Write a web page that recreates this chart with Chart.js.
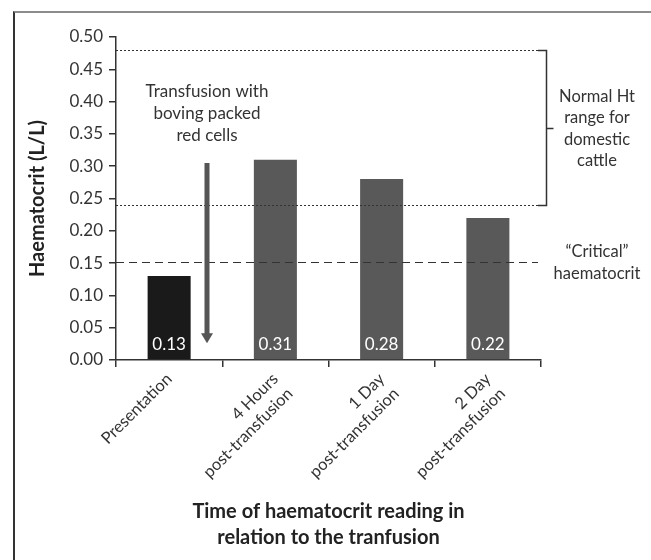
<!DOCTYPE html>
<html>
<head>
    <meta charset="UTF-8">
    <title>Haematocrit after transfusion</title>
    <script src="https://cdn.jsdelivr.net/npm/chart.js"></script>
    <style>
        body { margin: 0; background: #fff; }
        #wrap { position: relative; width: 651px; height: 560px; }
        #frame { position: absolute; left: 13px; top: 11px; right: 0; bottom: 0;
                 border-top: 2px solid #8c8c8c; border-left: 2px solid #333; }
        canvas { position: absolute; left: 0; top: 0; }
    </style>
</head>
<body>
<div id="wrap">
    <div id="frame"></div>
    <canvas id="htChart" width="651" height="560"></canvas>
</div>

<script>
    // data
    var categories = [
        ['Presentation'],
        ['4 Hours', 'post-transfusion'],
        ['1 Day', 'post-transfusion'],
        ['2 Day', 'post-transfusion']
    ];
    var haematocrit = [0.13, 0.31, 0.28, 0.22];
    var barColors = ['#1a1a1a', '#595959', '#595959', '#595959'];
    var yTickValues = [0, 0.05, 0.10, 0.15, 0.20, 0.25, 0.30, 0.35, 0.40, 0.45, 0.50];
    var normalRange = [0.24, 0.48];   // dotted lines
    var criticalLevel = 0.152;        // dashed line

    var FONT = 'Lato, "Open Sans", sans-serif';
    var TEXT = '#333';

    var annotations = {
        id: 'annotations',
        afterDatasetsDraw: function (chart) {
            var ctx = chart.ctx;
            var area = chart.chartArea;
            var x = chart.scales.x, y = chart.scales.y;
            ctx.save();

            // normal range (dotted)
            ctx.strokeStyle = '#333';
            ctx.lineWidth = 1;
            ctx.setLineDash([2, 2]);
            var lineEnd = area.right - 3;
            normalRange.forEach(function (v) {
                var py = Math.round(y.getPixelForValue(v)) + 0.5;
                ctx.beginPath();
                ctx.moveTo(area.left, py);
                ctx.lineTo(lineEnd, py);
                ctx.stroke();
            });

            // critical (dashed)
            ctx.setLineDash([8, 5]);
            ctx.lineWidth = 1.2;
            var cy = Math.round(y.getPixelForValue(criticalLevel)) + 0.5;
            ctx.beginPath();
            ctx.moveTo(area.left, cy);
            ctx.lineTo(lineEnd, cy);
            ctx.stroke();
            ctx.setLineDash([]);

            // bracket
            var bx = area.right + 5.5;
            var by1 = Math.round(y.getPixelForValue(normalRange[1])) + 0.5;
            var by0 = Math.round(y.getPixelForValue(normalRange[0])) + 0.5;
            var bm = Math.round((by0 + by1) / 2) + 0.5;
            ctx.lineWidth = 1.5;
            ctx.beginPath();
            ctx.moveTo(lineEnd, by1); ctx.lineTo(bx, by1); ctx.lineTo(bx, by0); ctx.lineTo(lineEnd, by0);
            ctx.moveTo(bx, bm); ctx.lineTo(bx + 7, bm);
            ctx.stroke();

            // right-side labels
            ctx.fillStyle = TEXT;
            ctx.font = '16.5px ' + FONT;
            ctx.textAlign = 'center';
            ctx.textBaseline = 'middle';
            var rx = area.right + 56;
            ['Normal Ht', 'range for', 'domestic', 'cattle'].forEach(function (t, i) {
                ctx.fillText(t, rx, bm - 32 + i * 21.5);
            });
            ['\u201CCritical\u201D', 'haematocrit'].forEach(function (t, i) {
                ctx.fillText(t, rx, cy - 11 + i * 22);
            });

            // transfusion arrow
            var x0 = x.getPixelForValue(0), x1 = x.getPixelForValue(1);
            var ax = Math.round(x0 + 0.36 * (x1 - x0));
            var aTop = y.getPixelForValue(0.305);
            var aTip = y.getPixelForValue(0.026);
            ctx.strokeStyle = '#555';
            ctx.fillStyle = '#555';
            ctx.lineWidth = 5;
            ctx.beginPath();
            ctx.moveTo(ax, aTop);
            ctx.lineTo(ax, aTip - 9);
            ctx.stroke();
            ctx.beginPath();
            ctx.moveTo(ax - 6, aTip - 10);
            ctx.lineTo(ax + 6, aTip - 10);
            ctx.lineTo(ax, aTip);
            ctx.closePath();
            ctx.fill();

            ctx.fillStyle = TEXT;
            ctx.font = '17px ' + FONT;
            ['Transfusion with', 'boving packed', 'red cells'].forEach(function (t, i) {
                ctx.fillText(t, ax, aTop - 71 + i * 22);
            });

            // value labels inside bars
            ctx.fillStyle = '#fff';
            ctx.font = '17px ' + FONT;
            var base = y.getPixelForValue(0);
            chart.getDatasetMeta(0).data.forEach(function (bar, i) {
                ctx.fillText(haematocrit[i].toFixed(2), bar.x, base - 15);
            });

            ctx.restore();
        }
    };

    var ctx = document.getElementById('htChart').getContext('2d');
    var htChart = new Chart(ctx, {
        type: 'bar',
        data: {
            labels: categories,
            datasets: [{
                data: haematocrit,
                backgroundColor: barColors,
                categoryPercentage: 1,
                barPercentage: 0.405
            }]
        },
        options: {
            responsive: false,
            animation: false,
            layout: { padding: { left: 14, right: 110, top: 37, bottom: 0 } },
            plugins: { legend: { display: false }, tooltip: { enabled: false } },
            scales: {
                x: {
                    grid: { offset: true, drawOnChartArea: false, tickLength: 7, color: '#333', lineWidth: 1.5 },
                    border: { color: '#333', width: 1.5 },
                    ticks: { minRotation: 45, maxRotation: 45, color: TEXT, padding: 2,
                             font: { family: FONT, size: 16.5, lineHeight: 1.25 } },
                    title: { display: true, text: ['Time of haematocrit reading in', 'relation to the tranfusion'],
                             color: '#222', padding: { top: 0, bottom: 9 },
                             font: { family: FONT, size: 20, weight: 'bold', lineHeight: 1.3 } },
                    afterFit: function (scale) { scale.height = 200; }
                },
                y: {
                    min: 0, max: 0.5,
                    afterBuildTicks: function (scale) {
                        scale.ticks = yTickValues.map(function (v) { return { value: v }; });
                    },
                    grid: { drawOnChartArea: false, tickLength: 7, color: '#333', lineWidth: 1.5 },
                    border: { color: '#333', width: 1.5 },
                    ticks: { color: TEXT, padding: 6, font: { family: FONT, size: 17 },
                             callback: function (v) { return Number(v).toFixed(2); } },
                    title: { display: true, text: 'Haematocrit (L/L)', color: '#222',
                             padding: { top: 12, bottom: 0 },
                             font: { family: FONT, size: 20, weight: 'bold' } },
                    afterFit: function (scale) { scale.width = 102; }
                }
            }
        },
        plugins: [annotations]
    });
</script>
</body>
</html>
